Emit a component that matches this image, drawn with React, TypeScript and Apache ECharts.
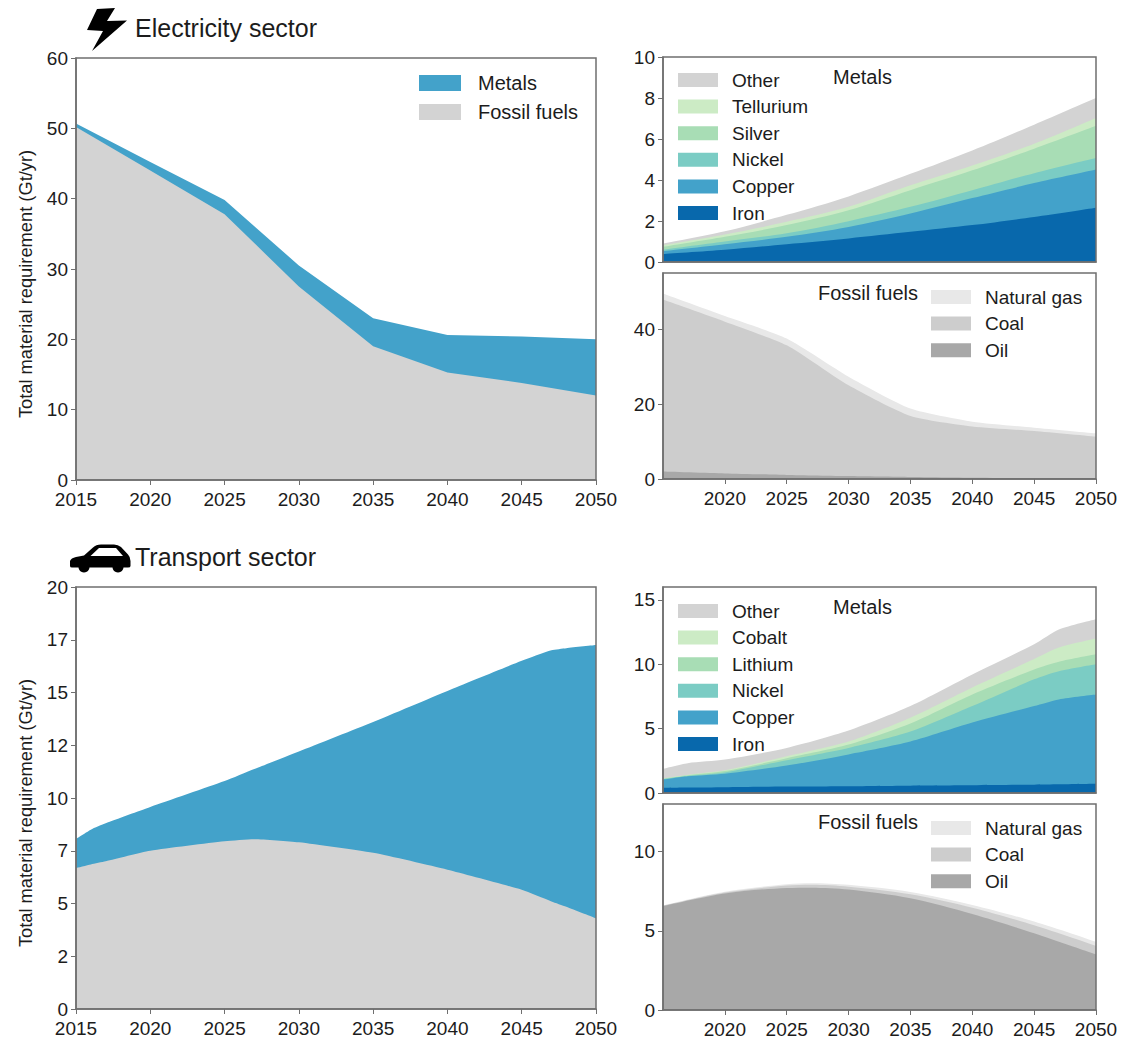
import React, { useEffect, useRef } from "react";
import * as echarts from "echarts";

const FONT = "Liberation Sans, Arial, sans-serif";
const INK = "#1c1c1c";
const SPINE = "#6f6f6f";

const yearsMain = [2015, 2020, 2025, 2030, 2035, 2040, 2045, 2050];
const elecFossil = [50.2, 44, 37.8, 27.5, 19, 15.3, 13.8, 12];
const elecMetals = [0.5, 1.2, 2.0, 3.0, 4.0, 5.3, 6.6, 8.0];

const elecIron = [0.39, 0.6, 0.87, 1.15, 1.47, 1.8, 2.2, 2.65];
const elecCopper = [0.14, 0.27, 0.36, 0.56, 0.9, 1.32, 1.65, 1.86];
const elecNickel = [0.07, 0.13, 0.17, 0.28, 0.32, 0.38, 0.48, 0.56];
const elecSilver = [0.14, 0.23, 0.4, 0.53, 0.81, 0.97, 1.2, 1.58];
const elecTellurium = [0.08, 0.11, 0.16, 0.17, 0.24, 0.24, 0.24, 0.38];
const elecOther = [0.08, 0.16, 0.34, 0.51, 0.56, 0.73, 0.93, 0.97];

const elecOil = [2, 1.5, 1.1, 0.8, 0.55, 0.35, 0.25, 0.2];
const elecCoal = [45.9, 40.5, 34.6, 24.2, 16.25, 13.65, 12.55, 11.1];
const elecGas = [1.6, 1.5, 1.8, 2.3, 2.0, 1.3, 0.9, 0.9];

const yearsTransLeft = [2015, 2016, 2017, 2020, 2025, 2027, 2030, 2035, 2040, 2045, 2047, 2048, 2050];
const transFossil = [6.68, 6.85, 7.0, 7.5, 7.95, 8.05, 7.9, 7.4, 6.6, 5.65, 5.1, 4.85, 4.3];
const transMetals = [1.38, 1.65, 1.8, 2.07, 2.85, 3.32, 4.3, 6.2, 8.47, 10.85, 11.9, 12.25, 12.95];

const yearsTransMetals = [2015, 2017, 2020, 2025, 2030, 2035, 2040, 2045, 2047, 2050];
const transIron = [0.39, 0.42, 0.45, 0.5, 0.53, 0.57, 0.6, 0.65, 0.68, 0.72];
const transCopper = [0.65, 0.88, 1.05, 1.63, 2.47, 3.43, 4.87, 6.1, 6.59, 6.93];
const transNickel = [0.04, 0.03, 0.1, 0.42, 0.5, 0.77, 1.28, 2.08, 2.19, 2.35];
const transLithium = [0.02, 0.04, 0.1, 0.15, 0.26, 0.63, 0.91, 0.77, 0.74, 0.77];
const transCobalt = [0.03, 0.05, 0.06, 0.15, 0.24, 0.45, 0.54, 0.8, 1.1, 1.23];
const transOther = [0.75, 0.9, 0.84, 0.65, 0.85, 0.9, 1.0, 1.15, 1.4, 1.5];

const yearsTransFossil = [2015, 2020, 2025, 2027, 2030, 2035, 2040, 2045, 2050];
const transOil = [6.55, 7.35, 7.7, 7.72, 7.6, 7.05, 6.06, 4.84, 3.5];
const transCoal = [0.03, 0.07, 0.15, 0.18, 0.18, 0.25, 0.39, 0.51, 0.55];
const transGas = [0.02, 0.05, 0.09, 0.1, 0.12, 0.15, 0.18, 0.23, 0.25];

const mainTicks = [2015, 2020, 2025, 2030, 2035, 2040, 2045, 2050];
const sideTicks = [2020, 2025, 2030, 2035, 2040, 2045, 2050];
const elecMainY = [0, 10, 20, 30, 40, 50, 60];
const elecMetalY = [0, 2, 4, 6, 8, 10];
const elecFossilY = [0, 20, 40];
const transMainY = [0, 2.5, 5, 7.5, 10, 12.5, 15, 17.5, 20];
const transMetalY = [0, 5, 10, 15];
const transFossilY = [0, 5, 10];

const C = {
  Iron: "#0868ac",
  Copper: "#43a2ca",
  Nickel: "#7bccc4",
  Silver: "#a8ddb5",
  Lithium: "#a8ddb5",
  Tellurium: "#ccebc5",
  Cobalt: "#ccebc5",
  Other: "#d3d3d3",
  Metals: "#43a2ca",
  "Fossil fuels": "#d3d3d3",
  Oil: "#a8a8a8",
  Coal: "#cdcdcd",
  "Natural gas": "#e8e8e8",
} as Record<string, string>;

const carBody =
  "M70 566 L70 561 Q71 558 76 557 L84 555.5 L93 547.5 Q96 544.5 101 544.5 L114 544.5 Q118 544.5 121 547 L128 554.5 Q130.5 557 130.5 561 L130.5 566 Q130.5 567.5 128 567.5 L72 567.5 Q70 567.5 70 566 Z";
echarts.graphic.registerShape("carBody", echarts.graphic.extendPath(carBody, {}));

type Panel = {
  box: [number, number, number, number];
  yMax: number;
  yTicks: number[];
  xTicks: number[] | null;
  yFmt?: (v: number) => string;
  years: number[];
  smooth: number | boolean;
  layers: [string, number[]][];
};

const panels: Panel[] = [
  { box: [76, 58, 596, 480], yMax: 60, yTicks: elecMainY, xTicks: mainTicks, years: yearsMain, smooth: false,
    layers: [["Fossil fuels", elecFossil], ["Metals", elecMetals]] },
  { box: [663, 57, 1096, 262], yMax: 10, yTicks: elecMetalY, xTicks: null, years: yearsMain, smooth: 0.3,
    layers: [["Iron", elecIron], ["Copper", elecCopper], ["Nickel", elecNickel], ["Silver", elecSilver], ["Tellurium", elecTellurium], ["Other", elecOther]] },
  { box: [663, 273, 1096, 479], yMax: 55, yTicks: elecFossilY, xTicks: sideTicks, years: yearsMain, smooth: 0.2,
    layers: [["Oil", elecOil], ["Coal", elecCoal], ["Natural gas", elecGas]] },
  { box: [76, 587, 596, 1009], yMax: 20, yTicks: transMainY, xTicks: mainTicks, yFmt: (v) => String(Math.floor(v)), years: yearsTransLeft, smooth: 0.2,
    layers: [["Fossil fuels", transFossil], ["Metals", transMetals]] },
  { box: [663, 587, 1096, 793], yMax: 16, yTicks: transMetalY, xTicks: null, years: yearsTransMetals, smooth: 0.25,
    layers: [["Iron", transIron], ["Copper", transCopper], ["Nickel", transNickel], ["Lithium", transLithium], ["Cobalt", transCobalt], ["Other", transOther]] },
  { box: [663, 804, 1096, 1010], yMax: 13, yTicks: transFossilY, xTicks: sideTicks, years: yearsTransFossil, smooth: 0.3,
    layers: [["Oil", transOil], ["Coal", transCoal], ["Natural gas", transGas]] },
];

const legends: { names: string[]; left: number; center: number; step: number; w: number; h: number; size: number; pad: number }[] = [
  { names: ["Metals", "Fossil fuels"], left: 419, center: 83, step: 29, w: 42, h: 16, size: 20, pad: 12 },
  { names: ["Other", "Tellurium", "Silver", "Nickel", "Copper", "Iron"], left: 678, center: 80, step: 26.6, w: 40, h: 14, size: 19, pad: 9 },
  { names: ["Natural gas", "Coal", "Oil"], left: 931, center: 297, step: 26.6, w: 40, h: 14, size: 19, pad: 9 },
  { names: ["Other", "Cobalt", "Lithium", "Nickel", "Copper", "Iron"], left: 678, center: 611, step: 26.6, w: 40, h: 14, size: 19, pad: 9 },
  { names: ["Natural gas", "Coal", "Oil"], left: 931, center: 828, step: 26.6, w: 40, h: 14, size: 19, pad: 9 },
];

const labels: { text: string; x: number; y: number; size: number }[] = [
  { text: "Electricity sector", x: 135, y: 28, size: 25 },
  { text: "Transport sector", x: 135, y: 557, size: 25 },
  { text: "Metals", x: 833, y: 77, size: 20 },
  { text: "Fossil fuels", x: 818, y: 293, size: 20 },
  { text: "Metals", x: 833, y: 607, size: 20 },
  { text: "Fossil fuels", x: 818, y: 822, size: 20 },
];

function buildOption() {
  const grid: any[] = [], xAxis: any[] = [], yAxis: any[] = [], series: any[] = [], graphic: any[] = [];
  panels.forEach((p, i) => {
    const [l, t, r, b] = p.box;
    grid.push({ left: l, top: t, width: r - l, height: b - t, containLabel: false, outerBoundsMode: "none" });
    xAxis.push({
      type: "value", gridIndex: i, min: 2015, max: 2050, z: 5,
      splitLine: { show: false },
      axisLine: { onZero: false, lineStyle: { color: SPINE, width: 1.5 } },
      axisTick: { show: !!p.xTicks, length: 5, customValues: p.xTicks || [], lineStyle: { color: SPINE, width: 1 } },
      axisLabel: { show: !!p.xTicks, customValues: p.xTicks || [], color: INK, fontSize: 19, lineHeight: 14, fontFamily: FONT, margin: 12, showMinLabel: true, showMaxLabel: true, hideOverlap: false, formatter: (v: number) => String(v) },
    });
    yAxis.push({
      type: "value", gridIndex: i, min: 0, max: p.yMax, z: 5,
      splitLine: { show: false },
      axisLine: { onZero: false, lineStyle: { color: SPINE, width: 1.5 } },
      axisTick: { show: true, length: 5, customValues: p.yTicks, lineStyle: { color: SPINE, width: 1 } },
      axisLabel: { customValues: p.yTicks, color: INK, fontSize: 19, lineHeight: 14, fontFamily: FONT, margin: 8, formatter: p.yFmt || ((v: number) => String(v)) },
    });
    // Layers are accumulated and painted from the top one down, so each band shows the value it carries.
    let running = p.years.map(() => 0);
    const tops = p.layers.map(([name, vals]) => {
      running = running.map((s, k) => s + vals[k]);
      return { name, tops: running };
    });
    tops.reverse().forEach(({ name, tops: v }) => {
      series.push({
        type: "line", name, xAxisIndex: i, yAxisIndex: i, smooth: p.smooth,
        showSymbol: false, symbol: "none", silent: true,
        lineStyle: { width: 0 }, itemStyle: { color: C[name] },
        areaStyle: { color: C[name], opacity: 1, origin: "start" },
        data: p.years.map((y, k) => [y, v[k]]),
      });
    });
    graphic.push({ type: "rect", silent: true, z: 50, shape: { x: l, y: t, width: r - l, height: b - t }, style: { fill: "none", stroke: SPINE, lineWidth: 1.5 } });
  });
  labels.forEach((s) => {
    graphic.push({ type: "text", silent: true, z: 60, x: s.x, y: s.y, style: { text: s.text, fill: INK, fontSize: s.size, fontFamily: FONT, verticalAlign: "middle", align: "left" } });
  });
  [[25, 284], [25, 813]].forEach(([x, y]) => {
    graphic.push({ type: "text", silent: true, z: 60, x, y, rotation: Math.PI / 2, style: { text: "Total material requirement (Gt/yr)", fill: INK, fontSize: 18.3, fontFamily: FONT, align: "center", verticalAlign: "middle" } });
  });
  graphic.push({ type: "polygon", silent: true, z: 60, shape: { points: [[97, 9], [115, 8], [107, 21], [127, 20.5], [92, 51], [103, 31], [87, 30]] }, style: { fill: "#000" } });
  graphic.push({ type: "carBody", silent: true, z: 60, x: 0, y: 0, style: { fill: "#000" } });
  graphic.push({ type: "polygon", silent: true, z: 61, shape: { points: [[90.5, 556], [99, 548], [116, 548], [123, 556]] }, style: { fill: "#fff" } });
  graphic.push({ type: "circle", silent: true, z: 60, shape: { cx: 84, cy: 567, r: 5.5 }, style: { fill: "#000" } });
  graphic.push({ type: "circle", silent: true, z: 60, shape: { cx: 118, cy: 567, r: 5.5 }, style: { fill: "#000" } });

  const legend = legends.map((g) => ({
    show: true, orient: "vertical", left: g.left, top: g.center - 10, padding: 0,
    itemWidth: g.w, itemHeight: g.h, itemGap: g.step - 20, icon: "rect", selectedMode: false,
    data: g.names,
    textStyle: { color: INK, fontSize: g.size, fontFamily: FONT, padding: [0, 0, 0, g.pad], lineHeight: 20, height: 20 },
  }));

  return { animation: false, backgroundColor: "#fff", grid, xAxis, yAxis, series, graphic, legend, tooltip: { show: false } };
}

export default function App() {
  const ref = useRef<HTMLDivElement>(null);
  useEffect(() => {
    const chart = echarts.init(ref.current!, undefined, { renderer: "svg" });
    chart.setOption(buildOption() as any);
    return () => chart.dispose();
  }, []);
  return <div ref={ref} style={{ position: "absolute", left: 0, top: 0, width: 1117, height: 1040, overflow: "hidden", background: "#fff" }} />;
}
